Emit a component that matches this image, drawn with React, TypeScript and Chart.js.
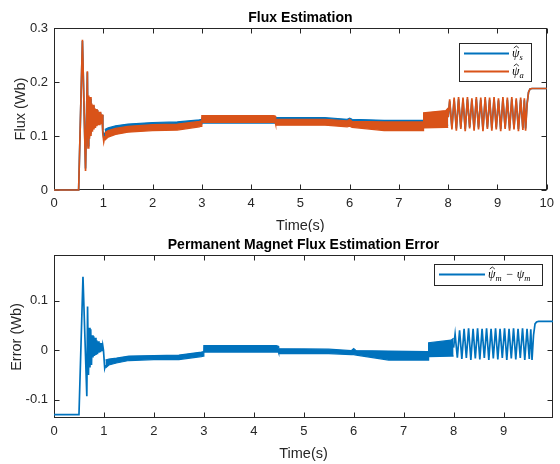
import React, { useEffect, useRef } from "react";
import { Chart, registerables } from "chart.js";

Chart.register(...registerables);

const BLUE = "#0072BD";
const ORANGE = "#D95319";
const INK = "#262626";
const SANS = '"Liberation Sans", Arial, Helvetica, sans-serif';
const SERIF = '"Liberation Serif", "DejaVu Serif", serif';

// ---------------- Top axes: Flux Estimation ----------------
const fluxXTicks = [0, 1, 2, 3, 4, 5, 6, 7, 8, 9, 10];
const fluxYTicks = [0, 0.1, 0.2, 0.3];

// start-up transient (line)
const transT = [0, 0.5, 0.577, 0.64, 0.677, 0.69, 0.705, 0.72, 0.735, 0.75, 0.765, 0.78, 0.795, 0.81, 0.825, 0.84, 0.855, 0.87, 0.885, 0.9, 0.915, 0.93, 0.945, 0.96, 0.975, 0.99, 1.01, 1.03];
const psiATransY = [0, 0, 0.278, 0.035, 0.22, 0.078, 0.175, 0.095, 0.172, 0.1, 0.16, 0.108, 0.158, 0.112, 0.152, 0.115, 0.15, 0.118, 0.148, 0.12, 0.145, 0.12, 0.145, 0.122, 0.14, 0.105, 0.09, 0.1];
const psiSTransY = [0, 0, 0.276, 0.04, 0.218, 0.082, 0.172, 0.099, 0.169, 0.104, 0.158, 0.112, 0.156, 0.116, 0.15, 0.119, 0.149, 0.121, 0.147, 0.123, 0.144, 0.124, 0.143, 0.125, 0.139, 0.11, 0.097, 0.106];

// dense, fast ripple (drawn as envelope band)
const bandT = [1.03, 1.1, 1.25, 1.5, 2.0, 2.5, 2.95, 2.99, 3.0, 4.45, 4.49, 4.5, 5.5, 5.95, 6.0, 6.05, 6.7, 7.48, 7.49, 7.5, 7.95, 8.0];
const psiABandHi = [0.106, 0.11, 0.114, 0.118, 0.121, 0.122, 0.127, 0.128, 0.138, 0.138, 0.137, 0.131, 0.131, 0.128, 0.131, 0.127, 0.126, 0.126, 0.126, 0.143, 0.147, 0.152];
const psiABandLo = [0.092, 0.098, 0.103, 0.107, 0.11, 0.111, 0.117, 0.118, 0.125, 0.125, 0.124, 0.12, 0.12, 0.117, 0.118, 0.116, 0.11, 0.11, 0.11, 0.115, 0.116, 0.116];
const psiSBandHi = [0.112, 0.115, 0.119, 0.122, 0.125, 0.126, 0.13, 0.131, 0.133, 0.133, 0.133, 0.134, 0.134, 0.131, 0.133, 0.131, 0.129, 0.129, 0.129, 0.141, 0.145, 0.148];
const psiSBandLo = [0.1, 0.103, 0.108, 0.112, 0.114, 0.115, 0.121, 0.122, 0.124, 0.124, 0.124, 0.124, 0.124, 0.121, 0.121, 0.12, 0.116, 0.116, 0.116, 0.118, 0.119, 0.12];

// slow oscillation 8 s .. 9.6 s and final value
const oscT = [8.0, 8.03, 8.075, 8.12, 8.165, 8.21, 8.255, 8.3, 8.345, 8.39, 8.435, 8.48, 8.525, 8.57, 8.615, 8.66, 8.705, 8.75, 8.795, 8.84, 8.885, 8.93, 8.975, 9.02, 9.065, 9.11, 9.155, 9.2, 9.245, 9.29, 9.335, 9.38, 9.425, 9.47, 9.515, 9.545, 9.57, 9.6, 9.63, 9.66, 9.7, 10.0];
const psiAOscY = [0.135, 0.168, 0.112, 0.171, 0.11, 0.172, 0.113, 0.171, 0.109, 0.172, 0.114, 0.17, 0.11, 0.172, 0.112, 0.171, 0.109, 0.172, 0.113, 0.171, 0.11, 0.172, 0.112, 0.17, 0.109, 0.172, 0.113, 0.171, 0.11, 0.172, 0.112, 0.17, 0.109, 0.171, 0.111, 0.17, 0.11, 0.158, 0.181, 0.187, 0.188, 0.188];
const psiSOscY = [0.135, 0.164, 0.116, 0.167, 0.114, 0.168, 0.116, 0.167, 0.113, 0.168, 0.117, 0.166, 0.114, 0.168, 0.116, 0.167, 0.113, 0.168, 0.116, 0.167, 0.114, 0.168, 0.116, 0.166, 0.113, 0.168, 0.116, 0.167, 0.114, 0.168, 0.116, 0.166, 0.113, 0.167, 0.115, 0.166, 0.114, 0.16, 0.181, 0.187, 0.188, 0.188];

// ---------------- Bottom axes: PM flux estimation error ----------------
const errXTicks = [0, 1, 2, 3, 4, 5, 6, 7, 8, 9];
const errYTicks = [-0.1, 0, 0.1];

const errTransT = [0, 0.5, 0.58, 0.657, 0.672, 0.69, 0.705, 0.72, 0.735, 0.75, 0.765, 0.78, 0.795, 0.81, 0.825, 0.84, 0.855, 0.87, 0.885, 0.9, 0.915, 0.93, 0.945, 0.96, 0.975, 0.99, 1.015, 1.03];
const errTransY = [-0.13, -0.13, 0.148, -0.093, 0.088, -0.05, 0.045, -0.035, 0.042, -0.03, 0.03, -0.015, 0.028, -0.012, 0.025, -0.01, 0.02, -0.008, 0.018, -0.005, 0.015, -0.004, 0.014, -0.002, 0.01, 0.0, -0.036, -0.03];
const errBandHi = [-0.02, -0.018, -0.016, -0.012, -0.011, -0.01, -0.004, -0.003, 0.009, 0.009, 0.008, 0.003, 0.002, -0.001, 0.003, -0.001, -0.002, -0.003, -0.003, 0.015, 0.02, 0.024];
const errBandLo = [-0.036, -0.03, -0.026, -0.021, -0.019, -0.019, -0.013, -0.012, -0.004, -0.004, -0.004, -0.007, -0.007, -0.009, -0.009, -0.01, -0.02, -0.02, -0.02, -0.013, -0.012, -0.012];
const errOscT = [8.0, 8.03, 8.075, 8.12, 8.165, 8.21, 8.255, 8.3, 8.345, 8.39, 8.435, 8.48, 8.525, 8.57, 8.615, 8.66, 8.705, 8.75, 8.795, 8.84, 8.885, 8.93, 8.975, 9.02, 9.065, 9.11, 9.155, 9.2, 9.245, 9.29, 9.335, 9.38, 9.425, 9.47, 9.515, 9.545, 9.57, 9.6, 9.63, 9.66, 9.7, 9.99];
const errOscY = [0.005, 0.032, -0.015, 0.04, -0.018, 0.043, -0.016, 0.044, -0.02, 0.043, -0.017, 0.044, -0.019, 0.043, -0.016, 0.044, -0.02, 0.043, -0.017, 0.044, -0.019, 0.043, -0.016, 0.044, -0.02, 0.043, -0.017, 0.044, -0.019, 0.043, -0.016, 0.044, -0.02, 0.043, -0.018, 0.042, -0.02, 0.03, 0.053, 0.057, 0.058, 0.058];

const pts = (xs: number[], ys: number[]) => xs.map((x, i) => ({ x, y: ys[i] }));

function lineDs(label: string, xs: number[], ys: number[], color: string, order: number, width = 1.7) {
  return { label, data: pts(xs, ys), borderColor: color, backgroundColor: color, borderWidth: width, pointRadius: 0, fill: false, tension: 0, order, clip: 3 };
}
function bandDs(label: string, xs: number[], hi: number[], lo: number[], color: string, order: number) {
  return [
    { label: label + "_hi", data: pts(xs, hi), borderColor: color, backgroundColor: color, borderWidth: 1.2, pointRadius: 0, fill: false, tension: 0, order, clip: 3 },
    { label: label + "_lo", data: pts(xs, lo), borderColor: color, backgroundColor: color, borderWidth: 1.2, pointRadius: 0, fill: "-1", tension: 0, order, clip: 3 },
  ];
}

type Part = { t: string; sub?: boolean; hat?: boolean };
type Legend = { box: [number, number, number, number]; lineX: [number, number]; entries: { y: number; color: string; parts: Part[] }[] };

type FrameOpts = {
  xTicks: number[]; yTicks: number[]; title: string; titleY: number; xLabel: string; xLabelY: number;
  yLabel: string; yLabelX: number; yLabelCY: number; legend: Legend;
};

function makePlugins(o: FrameOpts) {
  return {
    id: "matlabFrame",
    beforeDatasetsDraw(chart: any) {
      const { ctx, chartArea: a, scales } = chart;
      const L = Math.round(a.left) + 0.5, R = Math.round(a.right) - 0.5, T = Math.round(a.top) + 0.5, B = Math.round(a.bottom) - 0.5;
      ctx.save();
      ctx.strokeStyle = INK;
      ctx.lineWidth = 1;
      ctx.strokeRect(L, T, R - L, B - T);
      ctx.beginPath();
      for (const v of o.xTicks) {
        const p = Math.round(scales.x.getPixelForValue(v)) + 0.5;
        ctx.moveTo(p, B); ctx.lineTo(p, B - 5);
        ctx.moveTo(p, T); ctx.lineTo(p, T + 5);
      }
      for (const v of o.yTicks) {
        const p = Math.round(scales.y.getPixelForValue(v)) + 0.5;
        ctx.moveTo(L, p); ctx.lineTo(L + 5, p);
        ctx.moveTo(R, p); ctx.lineTo(R - 5, p);
      }
      ctx.stroke();
      ctx.restore();
    },
    afterDraw(chart: any) {
      const { ctx, chartArea: a } = chart;
      const cx = (a.left + a.right) / 2;
      ctx.save();
      ctx.fillStyle = "#000";
      ctx.textAlign = "center";
      ctx.textBaseline = "alphabetic";
      ctx.font = `bold 14px ${SANS}`;
      ctx.fillText(o.title, cx, o.titleY);
      ctx.fillStyle = INK;
      ctx.font = `14.5px ${SANS}`;
      ctx.fillText(o.xLabel, cx, o.xLabelY);
      ctx.save();
      ctx.translate(o.yLabelX, o.yLabelCY);
      ctx.rotate(-Math.PI / 2);
      ctx.fillText(o.yLabel, 0, 0);
      ctx.restore();
      // legend
      const lg = o.legend;
      const [bx, by, bw, bh] = lg.box;
      ctx.fillStyle = "#fff";
      ctx.fillRect(bx, by, bw, bh);
      ctx.strokeStyle = INK;
      ctx.lineWidth = 1;
      ctx.strokeRect(bx + 0.5, by + 0.5, bw, bh);
      for (const e of lg.entries) {
        ctx.strokeStyle = e.color;
        ctx.lineWidth = 2;
        ctx.beginPath();
        ctx.moveTo(lg.lineX[0], e.y);
        ctx.lineTo(lg.lineX[1], e.y);
        ctx.stroke();
        let x = lg.lineX[1] + 3;
        const base = e.y + 3.5;
        ctx.fillStyle = "#000";
        ctx.textAlign = "left";
        for (const p of e.parts) {
          if (p.sub) {
            ctx.font = `italic 8.5px ${SERIF}`;
            ctx.fillText(p.t, x, base + 2.5);
            x += ctx.measureText(p.t).width + 1;
          } else {
            ctx.font = `italic 12px ${SERIF}`;
            ctx.fillText(p.t, x, base);
            const w = ctx.measureText(p.t).width;
            if (p.hat) {
              const hx = x + w * 0.58;
              const hy = base - 11;
              ctx.strokeStyle = "#000";
              ctx.lineWidth = 0.8;
              ctx.beginPath();
              ctx.moveTo(hx - 2.5, hy + 2);
              ctx.lineTo(hx, hy);
              ctx.lineTo(hx + 2.5, hy + 2);
              ctx.stroke();
            }
            x += w;
          }
        }
      }
      ctx.restore();
    },
  };
}

function buildConfig(datasets: any[], xMax: number, yMin: number, yMax: number, o: FrameOpts, padTop: number, xH: number) {
  const fmt = (v: any) => String(Math.round(Number(v) * 100) / 100);
  return {
    type: "line" as const,
    data: { datasets },
    options: {
      responsive: false,
      maintainAspectRatio: false,
      animation: false as const,
      devicePixelRatio: 1,
      events: [] as any[],
      layout: { padding: { left: 0, right: 7, top: padTop, bottom: 0 } },
      plugins: { legend: { display: false }, title: { display: false }, tooltip: { enabled: false } },
      scales: {
        x: {
          type: "linear" as const, min: 0, max: xMax,
          afterBuildTicks: (s: any) => { s.ticks = o.xTicks.map((v) => ({ value: v })); },
          afterFit: (s: any) => { s.height = xH; },
          ticks: { color: INK, font: { family: SANS, size: 13 }, padding: 6, autoSkip: false, maxRotation: 0, minRotation: 0, callback: fmt },
          grid: { display: false, drawTicks: false },
          border: { display: false },
        },
        y: {
          type: "linear" as const, min: yMin, max: yMax,
          afterBuildTicks: (s: any) => { s.ticks = o.yTicks.map((v) => ({ value: v })); },
          afterFit: (s: any) => { s.width = 54; },
          ticks: { color: INK, font: { family: SANS, size: 13 }, padding: 6, autoSkip: false, callback: fmt },
          grid: { display: false, drawTicks: false },
          border: { display: false },
        },
      },
    },
    plugins: [makePlugins(o)],
  };
}

export default function App() {
  const topRef = useRef<HTMLCanvasElement>(null);
  const botRef = useRef<HTMLCanvasElement>(null);

  useEffect(() => {
    const fluxSets = [
      lineDs("psi_a", transT, psiATransY, ORANGE, 0),
      ...bandDs("psi_a_band", bandT, psiABandHi, psiABandLo, ORANGE, 0),
      lineDs("psi_a_osc", oscT, psiAOscY, ORANGE, 0),
      lineDs("psi_s", transT, psiSTransY, BLUE, 1),
      ...bandDs("psi_s_band", bandT, psiSBandHi, psiSBandLo, BLUE, 1),
      lineDs("psi_s_osc", oscT, psiSOscY, BLUE, 1),
    ];
    const errSets = [
      lineDs("err", errTransT, errTransY, BLUE, 0),
      ...bandDs("err_band", bandT, errBandHi, errBandLo, BLUE, 0),
      lineDs("err_osc", errOscT, errOscY, BLUE, 0),
    ];
    const c1 = new Chart(topRef.current as HTMLCanvasElement, buildConfig(fluxSets, 10, 0, 0.3, {
      xTicks: fluxXTicks, yTicks: fluxYTicks, title: "Flux Estimation", titleY: 22,
      xLabel: "Time(s)", xLabelY: 229.5, yLabel: "Flux (Wb)", yLabelX: 24.5, yLabelCY: 109,
      legend: {
        box: [459, 43, 72, 38], lineX: [464, 509],
        entries: [
          { y: 53.5, color: BLUE, parts: [{ t: "\u03C8", hat: true }, { t: "s", sub: true }] },
          { y: 71.5, color: ORANGE, parts: [{ t: "\u03C8", hat: true }, { t: "a", sub: true }] },
        ],
      },
    }, 28, 42) as any);
    const c2 = new Chart(botRef.current as HTMLCanvasElement, buildConfig(errSets, 9.99, -0.137, 0.192, {
      xTicks: errXTicks, yTicks: errYTicks, title: "Permanent Magnet Flux Estimation Error", titleY: 16.5,
      xLabel: "Time(s)", xLabelY: 226, yLabel: "Error (Wb)", yLabelX: 21, yLabelCY: 105,
      legend: {
        box: [434, 32, 108, 21], lineX: [439, 485],
        entries: [
          { y: 42.5, color: BLUE, parts: [{ t: "\u03C8", hat: true }, { t: "m", sub: true }, { t: " \u2212 " }, { t: "\u03C8" }, { t: "m", sub: true }] },
        ],
      },
    }, 23, 46) as any);
    return () => { c1.destroy(); c2.destroy(); };
  }, []);

  return (
    <div style={{ position: "absolute", left: 0, top: 0, width: 560, height: 464, background: "#fff" }}>
      <canvas ref={topRef} width={560} height={232} style={{ position: "absolute", left: 0, top: 0, width: 560, height: 232 }} />
      <canvas ref={botRef} width={560} height={232} style={{ position: "absolute", left: 0, top: 232, width: 560, height: 232 }} />
    </div>
  );
}
